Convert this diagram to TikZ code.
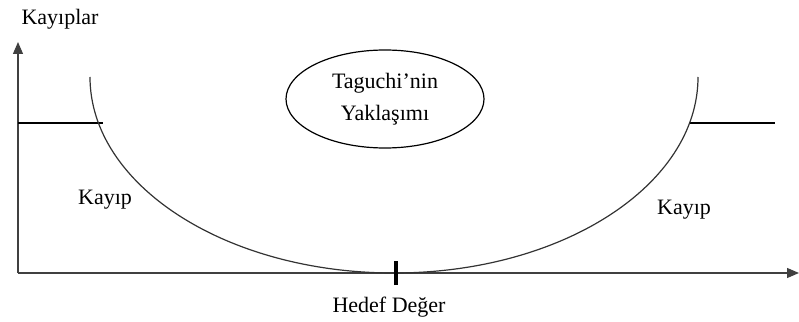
\documentclass[tikz,border=0pt]{standalone}
\usepackage{fontspec}
\setmainfont{Liberation Serif}
\usetikzlibrary{arrows.meta,shapes.geometric}

\begin{document}
\begin{tikzpicture}[
  x=1pt, y=1pt,
  font=\fontsize{22}{26}\selectfont, >={Triangle[length=12pt,width=10pt]},
  axis/.style={line width=1.2pt, black!75, ->},
  lossline/.style={line width=1.2pt},
  curv/.style={line width=1.2pt, black!80},
  tick/.style={line width=4pt},
  lbl/.style={inner sep=0pt},
  oval/.style={draw, ellipse, line width=1.2pt, minimum width=198pt, minimum height=98pt, align=center, inner sep=0pt},
]
\useasboundingbox (0,0) rectangle (799,321);

% ---------------- axes ----------------
\coordinate (o) at (18,48);
\coordinate (ytip) at (18,279);
\coordinate (xtip) at (799,48);
\draw[axis] (o) -- (ytip);
\draw[axis] (o) -- (xtip);
\node[lbl] (ylab) at (60,302) {Kayıplar};

% ---------------- step losses ----------------
\coordinate (la) at (18,198);
\coordinate (lb) at (103,198);
\coordinate (ra) at (690,198);
\coordinate (rb) at (775,198);
\draw[lossline] (la) -- (lb);
\draw[lossline] (ra) -- (rb);

% ---------------- quadratic loss ----------------
\coordinate (ctop) at (90,244);
\draw[curv] (ctop) arc[start angle=180, end angle=360, x radius=304, y radius=196];

% ---------------- target ----------------
\coordinate (t1) at (396,36);
\coordinate (t2) at (396,60);
\draw[tick] (t1) -- (t2);
\node[lbl] (target) at (389,14) {Hedef Değer};

\node[lbl] (kl) at (105,121) {Kayıp};
\node[lbl] (kr) at (684,111) {Kayıp};

\node[oval] (tag) at (385,222) {Taguchi’nin\\[6pt]Yaklaşımı};
\end{tikzpicture}
\end{document}
